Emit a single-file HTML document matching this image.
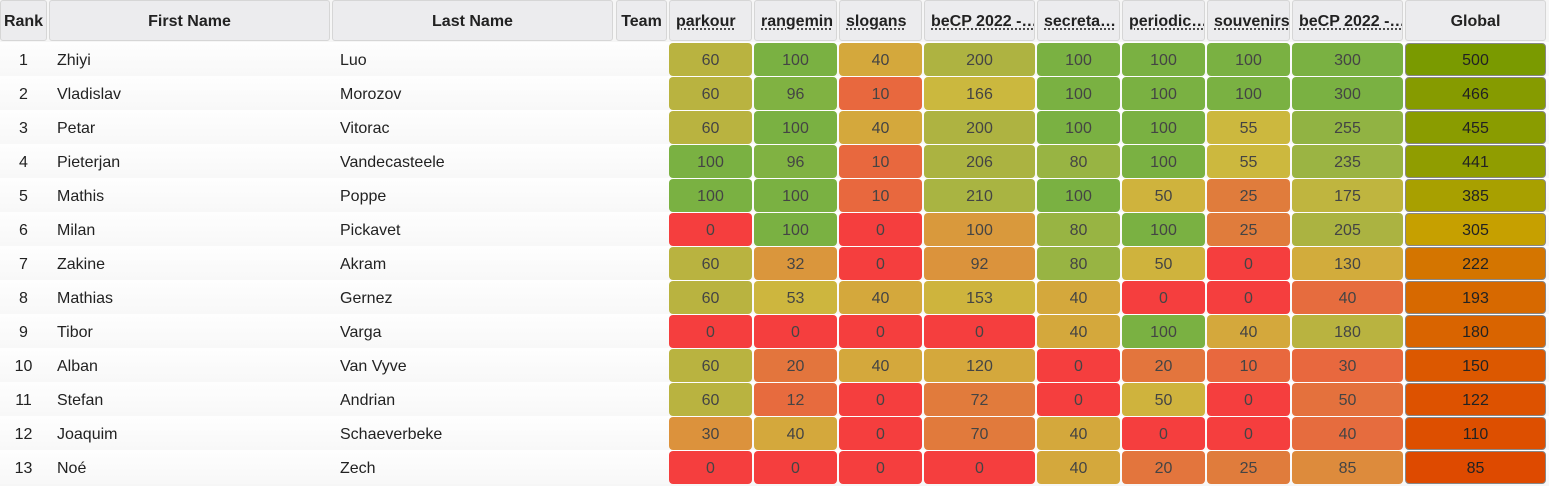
<!DOCTYPE html>
<html><head><meta charset="utf-8">
<style>
body{margin:0;width:1549px;height:484px;overflow:hidden;background:#f6f6f6;font-family:"Liberation Sans",sans-serif;position:relative}
.h{position:absolute;top:0;height:41px;padding-top:2px;background:#ececee;border:1px solid #d6d6d6;border-radius:3px;box-sizing:border-box;font-weight:bold;font-size:16px;color:#222;display:flex;align-items:center;justify-content:center;white-space:nowrap;overflow:hidden}
.h u{text-decoration:underline dotted;text-underline-offset:3px}
.row{position:absolute;left:0;width:1549px;height:34px;background:linear-gradient(#fefefe,#f8f8f8)}
.t{position:absolute;font-size:16px;color:#222;line-height:34px;padding-top:2px;white-space:nowrap}
.c{position:absolute;height:33px;padding-top:3px;border-radius:4px;font-size:16px;color:#444;display:flex;align-items:center;justify-content:center;box-sizing:border-box}
.g{border:1px solid #888;color:#222;padding-top:2px}
</style></head><body>
<div id="root"></div>
<script>
const firstNames=["Zhiyi","Vladislav","Petar","Pieterjan","Mathis","Milan","Zakine","Mathias","Tibor","Alban","Stefan","Joaquim","Noé"];
const lastNames=["Luo","Morozov","Vitorac","Vandecasteele","Poppe","Pickavet","Akram","Gernez","Varga","Van Vyve","Andrian","Schaeverbeke","Zech"];
const taskNames=["parkour","rangemin","slogans","beCP 2022 -…","secreta…","periodic…","souvenirs","beCP 2022 -…"];
const taskMax=[100,100,100,300,100,100,100,300];
const parkour=[60,60,60,100,100,0,60,60,0,60,60,30,0];
const rangemin=[100,96,100,96,100,100,32,53,0,20,12,40,0];
const slogans=[40,10,40,10,10,0,0,40,0,40,0,0,0];
const becp1=[200,166,200,206,210,100,92,153,0,120,72,70,0];
const secreta=[100,100,100,80,100,80,80,40,40,0,0,40,40];
const periodic=[100,100,100,100,50,100,50,0,100,20,50,0,20];
const souvenirs=[100,100,55,55,25,25,0,0,40,10,0,0,25];
const becp2=[300,300,255,235,175,205,130,40,180,30,50,40,85];
const globalScore=[500,466,455,441,385,305,222,193,180,150,122,110,85];
const series=[parkour,rangemin,slogans,becp1,secreta,periodic,souvenirs,becp2];

const stops=[[0,[245,62,62]],[0.1,[232,104,62]],[0.25,[224,124,60]],[0.3,[220,146,60]],[0.4,[212,168,60]],[0.55,[204,184,62]],[0.6,[185,179,64]],[0.8,[152,180,67]],[1,[122,177,66]]];
const gstops=[[0,[224,56,0]],[0.3,[220,88,0]],[0.44,[212,116,0]],[0.6,[200,160,0]],[0.77,[168,160,0]],[0.9,[140,156,0]],[1,[122,154,0]]];
function col(f,s){for(let i=1;i<s.length;i++){if(f<=s[i][0]){const a=s[i-1],b=s[i],k=(f-a[0])/(b[0]-a[0]);return 'rgb('+a[1].map((v,j)=>Math.round(v+(b[1][j]-v)*k)).join(',')+')';}}return 'rgb('+s[s.length-1][1].join(',')+')';}

const root=document.getElementById('root');
const colX=[[0,47],[49,330],[332,613],[616,667],[669,752],[754,837],[839,922],[924,1035],[1037,1120],[1122,1205],[1207,1290],[1292,1403],[1405,1546]];
const heads=["Rank","First Name","Last Name","Team"].concat(taskNames).concat(["Global"]);
heads.forEach((h,i)=>{const d=document.createElement('div');d.className='h';


d.style.left=colX[i][0]+'px';d.style.width=(colX[i][1]-colX[i][0])+'px';
if(i>=4&&i<12){d.innerHTML='<u></u>';d.firstChild.textContent=h;d.style.justifyContent='flex-start';d.style.paddingLeft='6px';}else d.textContent=h;
root.appendChild(d);});
firstNames.forEach((fn,r)=>{const y=42+r*34;
const row=document.createElement('div');row.className='row';row.style.top=y+'px';


root.appendChild(row);
const add=(txt,x,nm,cls)=>{const d=document.createElement('div');d.className=cls||'t';d.textContent=txt;d.style.top=y+'px';d.style.left=x+'px';root.appendChild(d);return d;};
const rk=add(String(r+1),0,'rank-cell');rk.style.width='47px';rk.style.textAlign='center';
add(fn,57,'first-name-cell');add(lastNames[r],340,'last-name-cell');
series.forEach((s,i)=>{const c=colX[i+4];const d=add(String(s[r]),c[0],'score-cell','c');
d.style.top=(y+1)+'px';d.style.width=(c[1]-c[0])+'px';d.style.background=col(s[r]/taskMax[i],stops);});
const gc=colX[12];const g=add(String(globalScore[r]),gc[0],'global-score-cell','c g');
g.style.top=(y+1)+'px';g.style.width=(gc[1]-gc[0])+'px';g.style.background=col(globalScore[r]/500,gstops);
});
</script>
</body></html>
